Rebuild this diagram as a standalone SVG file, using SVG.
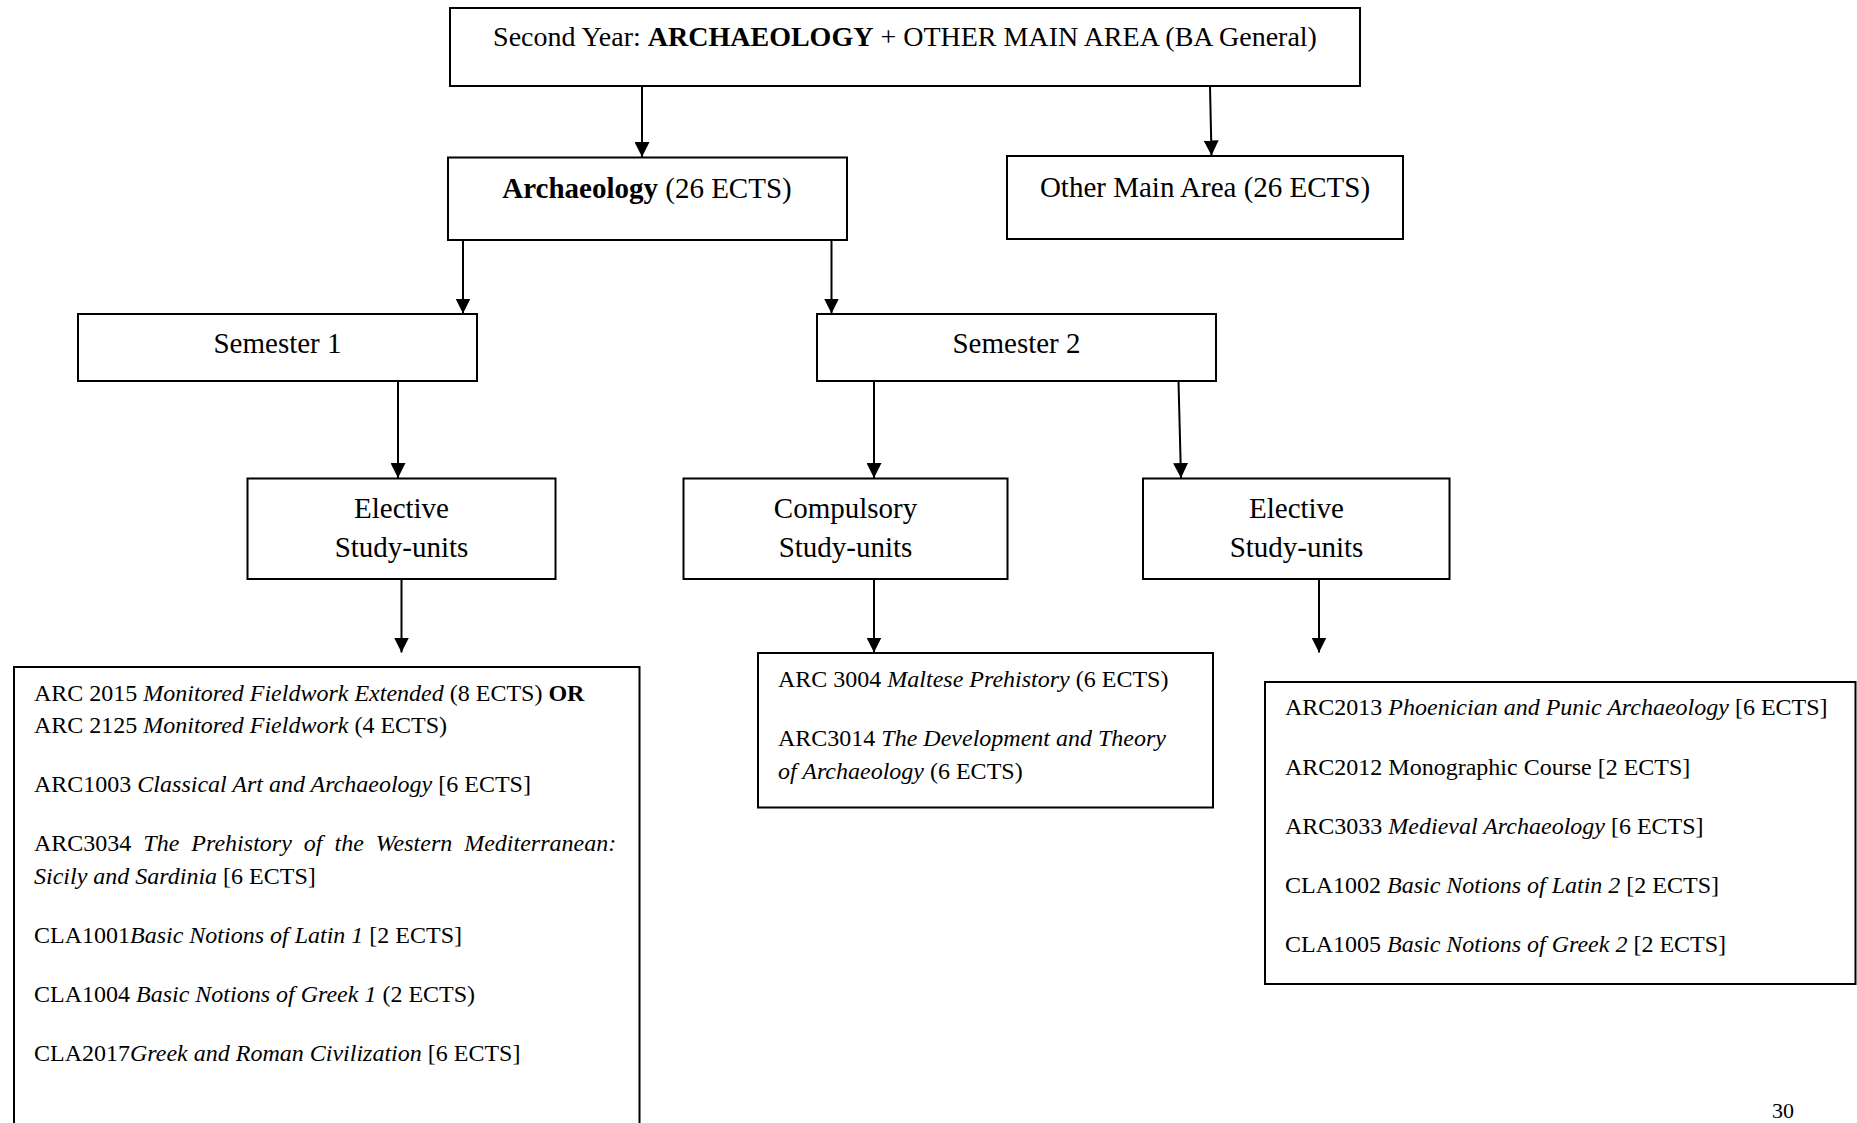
<svg xmlns="http://www.w3.org/2000/svg" width="1857" height="1123" viewBox="0 0 1857 1123">
<style>
.box{fill:#fff;stroke:#000;stroke-width:2}
.lbl{font-family:"Liberation Serif","Times New Roman",serif;font-size:29px;fill:#000;text-anchor:middle}
.lst{font-family:"Liberation Serif","Times New Roman",serif;font-size:24px;fill:#000}
.con{stroke:#000;stroke-width:2;fill:none;marker-end:url(#ah)}
.b{font-weight:bold}
.i{font-style:italic}
</style>
<defs>
<marker id="ah" markerUnits="userSpaceOnUse" markerWidth="15" markerHeight="15" refX="15" refY="7.5" orient="auto" viewBox="0 0 15 15">
<path d="M0,0 L15,7.5 L0,15 z" fill="#000"/>
</marker>
</defs>
<rect width="1857" height="1123" fill="#fff"/>
<g id="connectors">
<line class="con" x1="642" y1="86" x2="642" y2="157"/>
<line class="con" x1="1210" y1="86" x2="1211.5" y2="155.5"/>
<line class="con" x1="463" y1="240" x2="463" y2="313.5"/>
<line class="con" x1="831.5" y1="240" x2="831.5" y2="313.5"/>
<line class="con" x1="398" y1="381" x2="398" y2="478"/>
<line class="con" x1="874" y1="381" x2="874" y2="478"/>
<line class="con" x1="1178.5" y1="381" x2="1181" y2="478"/>
<line class="con" x1="401.5" y1="579" x2="401.5" y2="652.5"/>
<line class="con" x1="874" y1="579" x2="874" y2="652.5"/>
<line class="con" x1="1319" y1="579" x2="1319" y2="652.5"/>
</g>
<g id="top">
<rect class="box" x="450" y="8" width="910" height="78"/>
<text class="lbl" x="905" y="46" style="font-size:28px">Second Year: <tspan class="b">ARCHAEOLOGY</tspan> + OTHER MAIN AREA (BA General)</text>
</g>
<g id="archaeology">
<rect class="box" x="448" y="157.5" width="399" height="82.5"/>
<text class="lbl" x="647" y="198"><tspan class="b">Archaeology</tspan> (26 ECTS)</text>
</g>
<g id="other">
<rect class="box" x="1007" y="156" width="396" height="83"/>
<text class="lbl" x="1205" y="197">Other Main Area (26 ECTS)</text>
</g>
<g id="sem1">
<rect class="box" x="78" y="314" width="399" height="67"/>
<text class="lbl" x="277.5" y="353">Semester 1</text>
</g>
<g id="sem2">
<rect class="box" x="817" y="314" width="399" height="67"/>
<text class="lbl" x="1016.5" y="353">Semester 2</text>
</g>
<g id="elective1">
<rect class="box" x="247.5" y="478.5" width="308" height="100.5"/>
<text class="lbl" x="401.5" y="518">Elective</text>
<text class="lbl" x="401.5" y="557">Study-units</text>
</g>
<g id="compulsory">
<rect class="box" x="683.5" y="478.5" width="324" height="100.5"/>
<text class="lbl" x="845.5" y="518">Compulsory</text>
<text class="lbl" x="845.5" y="557">Study-units</text>
</g>
<g id="elective2">
<rect class="box" x="1143" y="478.5" width="306.5" height="100.5"/>
<text class="lbl" x="1296.5" y="518">Elective</text>
<text class="lbl" x="1296.5" y="557">Study-units</text>
</g>
<g id="list1">
<rect class="box" x="14" y="667" width="625.5" height="480"/>
<text class="lst" x="34" y="701">ARC 2015 <tspan class="i">Monitored Fieldwork Extended</tspan> (8 ECTS) <tspan class="b">OR</tspan></text>
<text class="lst" x="34" y="733">ARC 2125 <tspan class="i">Monitored Fieldwork</tspan> (4 ECTS)</text>
<text class="lst" x="34" y="792">ARC1003 <tspan class="i">Classical Art and Archaeology</tspan> [6 ECTS]</text>
<text class="lst" x="34" y="851" word-spacing="6">ARC3034 <tspan class="i">The Prehistory of the Western Mediterranean:</tspan></text>
<text class="lst" x="34" y="884"><tspan class="i">Sicily and Sardinia</tspan> [6 ECTS]</text>
<text class="lst" x="34" y="943">CLA1001<tspan class="i">Basic Notions of Latin 1</tspan> [2 ECTS]</text>
<text class="lst" x="34" y="1002">CLA1004 <tspan class="i">Basic Notions of Greek 1</tspan> (2 ECTS)</text>
<text class="lst" x="34" y="1061">CLA2017<tspan class="i">Greek and Roman Civilization</tspan> [6 ECTS]</text>
</g>
<g id="list2">
<rect class="box" x="758" y="653" width="455" height="154.5"/>
<text class="lst" x="778" y="687">ARC 3004 <tspan class="i">Maltese Prehistory</tspan> (6 ECTS)</text>
<text class="lst" x="778" y="746">ARC3014 <tspan class="i">The Development and Theory</tspan></text>
<text class="lst" x="778" y="779"><tspan class="i">of Archaeology</tspan> (6 ECTS)</text>
</g>
<g id="list3">
<rect class="box" x="1265" y="682" width="590.5" height="302"/>
<text class="lst" x="1285" y="715">ARC2013 <tspan class="i">Phoenician and Punic Archaeology</tspan> [6 ECTS]</text>
<text class="lst" x="1285" y="775">ARC2012 Monographic Course [2 ECTS]</text>
<text class="lst" x="1285" y="834">ARC3033 <tspan class="i">Medieval Archaeology</tspan> [6 ECTS]</text>
<text class="lst" x="1285" y="893">CLA1002 <tspan class="i">Basic Notions of Latin 2</tspan> [2 ECTS]</text>
<text class="lst" x="1285" y="952">CLA1005 <tspan class="i">Basic Notions of Greek 2</tspan> [2 ECTS]</text>
</g>
<text class="lst" x="1772" y="1118" style="font-size:22px">30</text>
</svg>
